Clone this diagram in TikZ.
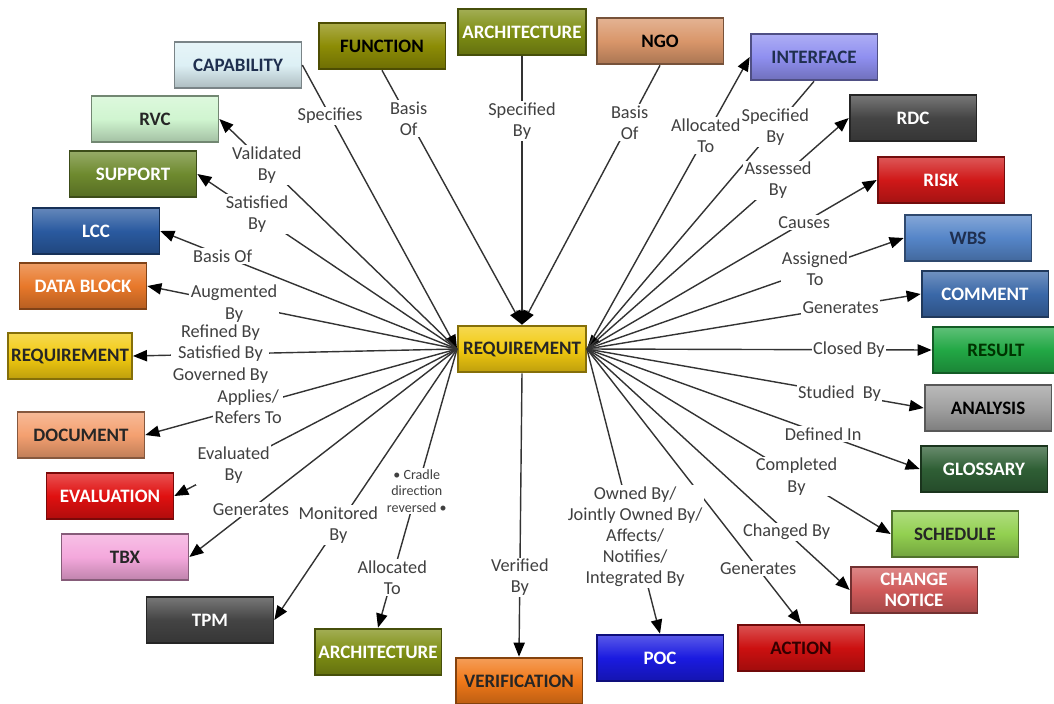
\documentclass[tikz,border=0pt]{standalone}
\usepackage{fontspec}
\setmainfont{Carlito}
\usetikzlibrary{arrows.meta}

\definecolor{lblgray}{HTML}{404040}
\definecolor{linegray}{HTML}{333333}
\definecolor{capc}{HTML}{DDF0F5}
\definecolor{oliv}{HTML}{8C8C05}
\definecolor{archc}{HTML}{7F8F14}
\definecolor{ngoc}{HTML}{D9966A}
\definecolor{intc}{HTML}{8F8FF0}
\definecolor{darkc}{HTML}{444444}
\definecolor{riskc}{HTML}{D01818}
\definecolor{wbsc}{HTML}{5585C8}
\definecolor{comc}{HTML}{3A68A8}
\definecolor{resc}{HTML}{22A845}
\definecolor{anac}{HTML}{A0A0A0}
\definecolor{gloc}{HTML}{2F5F35}
\definecolor{schc}{HTML}{92D050}
\definecolor{cnc}{HTML}{D05A5A}
\definecolor{actc}{HTML}{CC1010}
\definecolor{pocc}{HTML}{1A1AE0}
\definecolor{verc}{HTML}{F07818}
\definecolor{tbxc}{HTML}{F4A8DC}
\definecolor{evac}{HTML}{E01010}
\definecolor{docc}{HTML}{F4A070}
\definecolor{reqc}{HTML}{F2CA10}
\definecolor{datc}{HTML}{E8782A}
\definecolor{lccc}{HTML}{2A5AA0}
\definecolor{supc}{HTML}{6E8A2E}
\definecolor{rvcc}{HTML}{D0F5D0}
\definecolor{navyt}{HTML}{1F2F4F}

\begin{document}
\begin{tikzpicture}[x=0.025cm, y=-0.025cm,
  tile/.style 2 args={draw=#1!55!black, line width=1.3pt, top color=#1!72!white,
    bottom color=#1!78!black, middle color=#1, text=#2,
    font=\bfseries\fontsize{13.5}{14.5}\selectfont, minimum width=3.17cm,
    minimum height=1.17cm, inner sep=1pt, align=center},
  lbl/.style={fill=white, inner sep=1pt, align=center, text=lblgray,
    font=\fontsize{13}{15}\selectfont},
  link/.style={draw=linegray, line width=1pt, -{Triangle[length=10pt,width=8pt,color=black]}}]
\useasboundingbox (0,0) rectangle (1054,704);

% centre
\node[tile={reqc}{black!85}, minimum width=3.2cm] (req) at (522,349) {REQUIREMENT};

% top row
\node[tile={capc}{navyt}] (cap) at (238,65) {CAPABILITY};
\node[tile={oliv}{black}] (fun) at (382,46) {FUNCTION};
\node[tile={archc}{white}, minimum width=3.2cm] (art) at (522,32) {ARCHITECTURE};
\node[tile={ngoc}{black}] (ngo) at (660,41) {NGO};
\node[tile={intc}{navyt}] (int) at (814,57) {INTERFACE};

% right column
\node[tile={darkc}{white}] (rdc) at (913,118) {RDC};
\node[tile={riskc}{white}] (risk) at (941,180) {RISK};
\node[tile={wbsc}{navyt}] (wbs) at (968,238) {WBS};
\node[tile={comc}{white}] (com) at (985,294) {COMMENT};
\node[tile={resc}{black!80!green}] (res) at (996,350) {RESULT};
\node[tile={anac}{black}] (ana) at (988,408) {ANALYSIS};
\node[tile={gloc}{white}] (glo) at (984,469) {GLOSSARY};
\node[tile={schc}{black!85}] (sch) at (955,534) {SCHEDULE};
\node[tile={cnc}{white}] (cn) at (914,590) {CHANGE\\NOTICE};

% bottom row
\node[tile={actc}{black!80!red}] (act) at (801,648) {ACTION};
\node[tile={pocc}{white}] (poc) at (660,658) {POC};
\node[tile={verc}{black!85}] (ver) at (519,681) {VERIFICATION};
\node[tile={archc}{white}] (arb) at (378,652) {ARCHITECTURE};
\node[tile={darkc}{white}] (tpm) at (210,620) {TPM};

% left column
\node[tile={tbxc}{black!85}] (tbx) at (125,557) {TBX};
\node[tile={evac}{white}] (eva) at (110,496) {EVALUATION};
\node[tile={docc}{black!85}] (doc) at (81,435) {DOCUMENT};
\node[tile={reqc}{black!85}, minimum width=3.1cm] (rql) at (70,356) {REQUIREMENT};
\node[tile={datc}{white}] (dat) at (83,286) {DATA BLOCK};
\node[tile={lccc}{white}] (lcc) at (96,231) {LCC};
\node[tile={supc}{white}] (sup) at (133,174) {SUPPORT};
\node[tile={rvcc}{black!85}] (rvc) at (155,119) {RVC};

% links into the requirement
\draw[link] (cap.east) -- node[lbl,pos=.18]{Specifies} (req.west);
\draw[link] (fun.south) -- node[lbl,pos=.19]{Basis\\Of} (req.north);
\draw[link] (art.south) -- node[lbl,pos=.24]{Specified\\By} (req.north);
\draw[link] (ngo.south) -- node[lbl,pos=.22]{Basis\\Of} (req.north);
\draw[link] (int.south) -- node[lbl,pos=.17]{Specified\\By} (req.east);

% links out of the left side
\foreach \to/\p/\txt in {rvc.east/.8/{Validated\\By}, sup.east/.77/{Satisfied\\By},
    lcc.east/.79/{Basis Of}, dat.east/.72/{Augmented\\By},
    rql.east/.73/{Refined By\\Satisfied By\\Governed By},
    doc.east/.67/{Applies/\\Refers To}, eva.east/.79/{Evaluated\\By},
    tbx.east/.77/{Generates}, tpm.east/.65/{Monitored\\By}}
  \draw[link] (req.west) -- node[lbl,pos=\p]{\txt} (\to);

\draw[link] (req.west) -- node[lbl,pos=.51,font=\fontsize{10}{12}\selectfont]{\textbullet\ Cradle\\direction\\reversed \textbullet}
  node[lbl,pos=.82]{Allocated\\To} (arb.north);
\draw[link] (req.south) -- node[lbl,pos=.72]{Verified\\By} (ver.north);

% links out of the right side
\foreach \to/\p/\txt in {int.west/.73/{Allocated\\To}, rdc.west/.73/{Assessed\\By},
    risk.west/.75/{Causes}, wbs.west/.72/{Assigned\\To}, com.west/.76/{Generates},
    res.west/.76/{Closed By}, ana.west/.75/{Studied\ \ By}, glo.west/.71/{Defined In},
    sch.west/.69/{Completed\\By}, cn.west/.76/{Changed By}, act.north/.8/{Generates},
    poc.north/.66/{Owned By/\\Jointly Owned By/\\Affects/\\Notifies/\\Integrated By}}
  \draw[link] (req.east) -- node[lbl,pos=\p]{\txt} (\to);
\end{tikzpicture}
\end{document}
